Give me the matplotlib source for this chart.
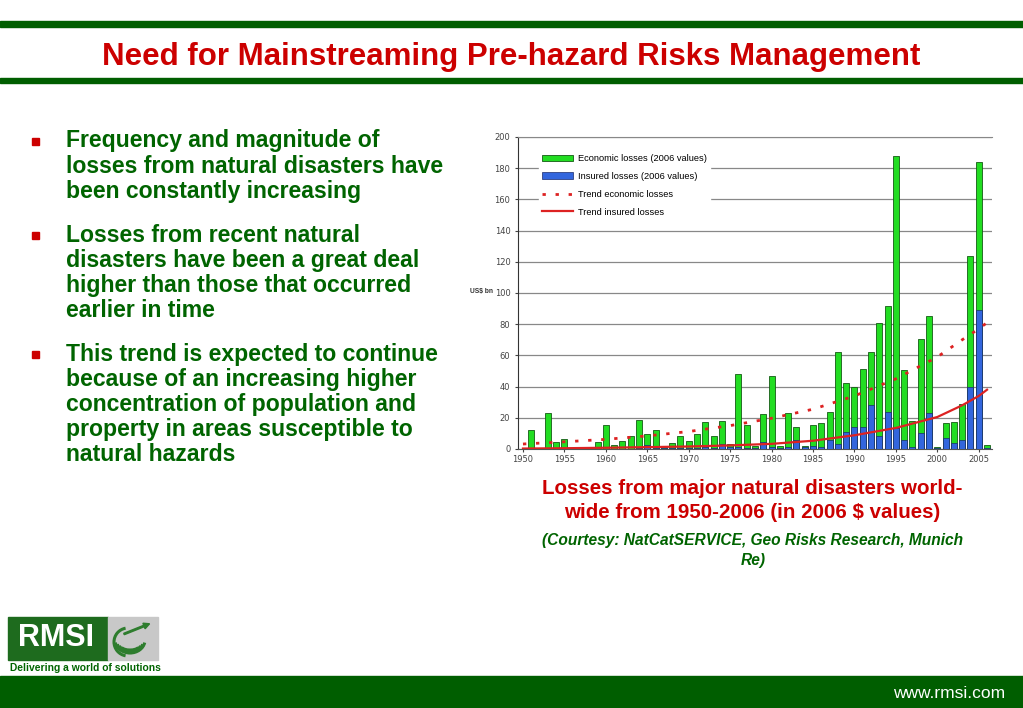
import matplotlib
matplotlib.use("Agg")
import matplotlib.pyplot as plt
import numpy as np
from matplotlib.patches import Rectangle, Arc, FancyArrow

years = list(range(1950, 2007))
economic = [0, 12, 0, 23, 4.5, 6.5, 0, 0, 0, 4.7,
            15.5, 2.6, 5.4, 8.6, 18.7, 9.5, 12.5, 1, 4, 8.6,
            5.4, 9.7, 17.6, 8.6, 18.2, 3.2, 47.8, 15.6, 2, 22.5,
            47, 2, 23, 14, 2, 15.6, 16.7, 23.5, 62, 42.4,
            40, 51.4, 62, 81, 91.6, 188, 50.7, 18.2, 70.7, 85,
            1, 16.5, 17.6, 29, 124, 184, 2.8]
insured = [0, 0, 0, 0.4, 0, 0, 0, 0, 0, 0,
           0, 0, 0, 0, 0.5, 2.8, 0.5, 0.5, 0.5, 0.5,
           0.5, 0.8, 1, 0.8, 3.5, 1, 1.5, 0.5, 0.5, 4.7,
           1, 0.5, 1, 6, 1.5, 2, 1, 6, 3, 11,
           14.3, 14, 28, 8.3, 23.5, 13.5, 5.8, 1.5, 10, 23,
           0.5, 7, 4, 5.8, 40, 89, 0.5]
trend_years = [1950, 1955, 1960, 1965, 1970, 1975, 1980, 1985, 1990, 1995, 2000, 2003, 2005, 2006]
trend_economic = [3.2, 4.6, 6.2, 8.4, 11.2, 15, 19.7, 25.5, 34, 45, 59, 70, 77, 81]
trend_insured = [0.3, 0.5, 0.8, 1.2, 1.6, 2.3, 3.3, 5.3, 8.8, 13.5, 20.5, 28, 34, 38]
yticks = list(range(0, 201, 20))
xticks = list(range(1950, 2006, 5))

DKGREEN = "#005E00"
RED = "#CC0000"
TXTGREEN = "#006400"
SANS = "Liberation Sans"

fig = plt.figure(figsize=(10.23, 7.08), dpi=100)
W, H = 1023, 708

def fx(x):
    return x / W

def fy(y):
    return 1 - y / H

# Slide decorations
fig.patches.append(Rectangle((0, fy(27)), 1, 6 / H, transform=fig.transFigure, color=DKGREEN, zorder=0))
fig.patches.append(Rectangle((0, fy(83)), 1, 5 / H, transform=fig.transFigure, color=DKGREEN, zorder=0))
fig.patches.append(Rectangle((0, 0), 1, 32 / H, transform=fig.transFigure, color=DKGREEN, zorder=0))

fig.text(fx(511), fy(57), "Need for Mainstreaming Pre-hazard Risks Management",
         family=SANS, weight="bold", fontsize=22.5,
         color=RED, ha="center", va="center")

bullets = [
    (141, ["Frequency and magnitude of", "losses from natural disasters have", "been constantly increasing"]),
    (235, ["Losses from recent natural", "disasters have been a great deal", "higher than those that occurred", "earlier in time"]),
    (354, ["This trend is expected to continue", "because of an increasing higher", "concentration of population and",
           "property in areas susceptible to", "natural hazards"]),
]
for y0, lines in bullets:
    fig.patches.append(Rectangle((fx(32), fy(y0 + 4)), 7 / W, 7 / H, transform=fig.transFigure, color=RED))
    for i, ln in enumerate(lines):
        fig.text(fx(66), fy(y0 + i * 25.2), ln, family=SANS, weight="bold",
                 fontsize=16.6, color=TXTGREEN, ha="left", va="center")

fig.text(fx(752), fy(488), "Losses from major natural disasters world-", family=SANS,
         weight="bold", fontsize=14.8, color=RED, ha="center", va="center")
fig.text(fx(752), fy(513), "wide from 1950-2006 (in 2006 $ values)", family=SANS,
         weight="bold", fontsize=14.8, color=RED, ha="center", va="center")
fig.text(fx(753), fy(541), "(Courtesy: NatCatSERVICE, Geo Risks Research, Munich", family=SANS,
         weight="bold", style="italic", fontsize=11.2, color=TXTGREEN, ha="center", va="center")
fig.text(fx(753), fy(560), "Re)", family=SANS,
         weight="bold", style="italic", fontsize=11.2, color=TXTGREEN, ha="center", va="center")

# Logo
fig.patches.append(Rectangle((fx(8), fy(660)), 100 / W, 43 / H, transform=fig.transFigure, color="#1E6B1E"))
fig.patches.append(Rectangle((fx(108), fy(660)), 50 / W, 43 / H, transform=fig.transFigure, color="#C8C8C8"))
fig.text(fx(56), fy(638), "RMSI", family=SANS, weight="bold", fontsize=22,
         color="white", ha="center", va="center")
fig.text(fx(10), fy(668), "Delivering a world of solutions", family=SANS, weight="bold",
         fontsize=7.4, color=TXTGREEN, ha="left", va="center")
lax = fig.add_axes([fx(110), fy(658), 46 / W, 39 / H], zorder=5)
lax.set_xlim(0, 46)
lax.set_ylim(0, 39)
lax.axis("off")
for k, (w, h) in enumerate([(30, 26), (26, 20), (22, 14), (18, 8)]):
    lax.add_patch(Arc((20, 18 - k * 2), w, h, theta1=190, theta2=350, color="#2E7D2E", lw=2.2))
lax.add_patch(Arc((18, 16), 28, 28, theta1=100, theta2=260, color="#2E7D2E", lw=2.2))
lax.add_patch(FancyArrow(14, 24, 20, 8, width=1.5, head_width=6, head_length=6, color="#2E7D2E"))

fig.text(fx(1005), fy(694), "www.rmsi.com", family=SANS, fontsize=12.5,
         color="white", ha="right", va="center")

# Chart
ax = fig.add_axes([fx(518), fy(449), (992 - 518) / W, (449 - 137) / H])
b1 = ax.bar(years, economic, width=0.72, color="#22DD22", edgecolor="#145A14", linewidth=0.6, zorder=3,
            label="Economic losses (2006 values)")
b2 = ax.bar(years, insured, width=0.72, color="#3366DD", edgecolor="#1A2A6A", linewidth=0.5, zorder=4,
            label="Insured losses (2006 values)")
l1, = ax.plot(trend_years, trend_economic, color="#DD2222", ls=(0, (1.2, 3.5)), lw=2, zorder=5,
              label="Trend economic losses")
l2, = ax.plot(trend_years, trend_insured, color="#DD2222", lw=1.6, zorder=5, label="Trend insured losses")

ax.set_xlim(1949.4, 2006.6)
ax.set_ylim(0, 200)
ax.set_yticks(yticks)
ax.set_xticks(xticks)
ax.tick_params(axis="both", labelsize=6, colors="#444444", length=2)
ax.tick_params(axis="x", pad=2)
ax.grid(axis="y", color="#888888", lw=0.9, zorder=0)
ax.set_axisbelow(True)
ax.spines["right"].set_visible(False)
ax.spines["top"].set_color("#888888")
ax.spines["left"].set_color("#333333")
ax.spines["bottom"].set_color("#555555")
fig.text(fx(482), fy(291), "US$ bn", family=SANS, weight="bold", fontsize=4.8,
         color="#333333", ha="center", va="center")

leg = ax.legend([b1, b2, l1, l2], [b1.get_label(), b2.get_label(), l1.get_label(), l2.get_label()],
                loc="upper left", bbox_to_anchor=(0.035, 0.97), frameon=True, fontsize=6.7,
                handlelength=3.3, handleheight=0.75, labelspacing=0.95, borderpad=0.35, handletextpad=0.5)
leg.get_frame().set_edgecolor("white")
leg.get_frame().set_facecolor("white")
leg.get_frame().set_alpha(1)
leg.set_zorder(6)
for t in leg.get_texts():
    t.set_family(SANS)

fig.savefig("out.png", dpi=100)
